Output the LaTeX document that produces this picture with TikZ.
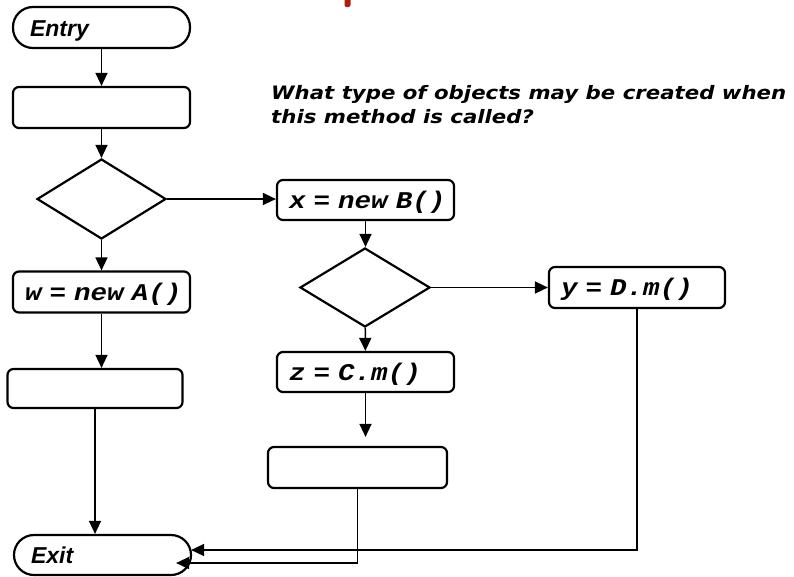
\documentclass[tikz,border=0pt]{standalone}
\usepackage{fontspec}
\setmainfont{Liberation Sans}
\newfontfamily\codefont[FakeStretch=1.15]{Liberation Mono}
\newfontfamily\notefont[FakeStretch=1.15]{DejaVu Sans}
\usetikzlibrary{shapes.geometric,arrows.meta,calc}
\definecolor{markred}{RGB}{178,28,12}
\newcommand\codeline[1]{\mbox{#1}}

\begin{document}
\begin{tikzpicture}[x=1pt,y=-1pt,
  stepbox/.style={draw, line width=2.2pt, rounded corners=6pt,
    minimum height=41pt, inner xsep=12pt, inner ysep=0pt,
    text width=#1, align=left, text height=18pt, text depth=2pt,
    font=\codefont\bfseries\itshape\fontsize{24}{24}\selectfont},
  stepbox/.default=153pt,
  terminal/.style={draw, line width=2.2pt, rounded corners=20pt,
    minimum height=41pt, inner xsep=17pt, inner ysep=0pt,
    text width=143pt, align=left, text height=19pt, text depth=2pt,
    font=\bfseries\itshape\fontsize{23}{23}\selectfont},
  choice/.style={draw, diamond, line width=2.2pt, inner sep=0pt,
    minimum width=129pt, minimum height=80pt},
  arr/.style={line width=1.5pt, -{Triangle[length=13pt,width=12pt]}},
  notetext/.style={anchor=base west, inner sep=0pt,
    font=\notefont\bfseries\itshape\fontsize{18.5}{24}\selectfont}
]
\useasboundingbox (0,0) rectangle (794,576);
\fill[white] (0,0) rectangle (794,576);

% small red bar at the top edge
\fill[markred, rounded corners=2pt] (344.5,-4) rectangle (350.5,7);

% left column
\node[terminal] (entry) at (101.5,27.5) {Entry};
\node[stepbox] (b1) at (101.5,107.5) {};
\node[choice] (d1) at (101.5,199) {};
\node[stepbox] (w) at (101.5,292) {\codeline{w = new A()}};
\node[stepbox=151pt, minimum height=39pt] (b3) at (95,388.5) {};
\node[terminal, minimum height=40pt] (ex) at (102.5,555) {Exit};

% middle column
\node[stepbox, minimum height=40pt] (bx) at (365.5,200) {\codeline{x = new B()}};
\node[choice, minimum width=130pt, minimum height=79pt] (d2) at (365,287.5) {};
\node[stepbox, minimum height=40pt] (z) at (365.5,372) {\codeline{z = C.m()}};
\node[stepbox=155pt] (b5) at (357.5,467.5) {};

% right column
\node[stepbox=152pt] (yb) at (637,287.5) {\codeline{y = D.m()}};

% question
\node[notetext] (note1) at (271,99) {What type of objects may be created when};
\node[notetext] (note2) at (271,123) {this method is called?};

% connectors
\draw[arr] (entry) -- (b1);
\draw[arr] (b1) -- (d1);
\draw[arr] (d1.east) -- (d1.east -| bx.west);
\draw[arr] (d1) -- (w);
\draw[arr] (w.south) -- (w.south |- b3.north);
\draw[arr] (b3.south) -- (b3.south |- ex.north);

\draw[arr] (bx.south) -- (bx.south |- d2.north);
\draw[arr] (d2.east) -- (d2.east -| yb.west);
\draw[arr] (d2) -- (z);
\draw[arr, shorten >=9pt] (z.south) -- (z.south |- b5.north);

\coordinate (exhigh) at ($(ex.east)+(-1,-5)$);
\coordinate (exlow) at ($(ex.east)+(-16,8)$);
\draw[arr] (yb.south) |- (exhigh);
\draw[arr] (b5.south) |- (exlow);
\end{tikzpicture}
\end{document}
